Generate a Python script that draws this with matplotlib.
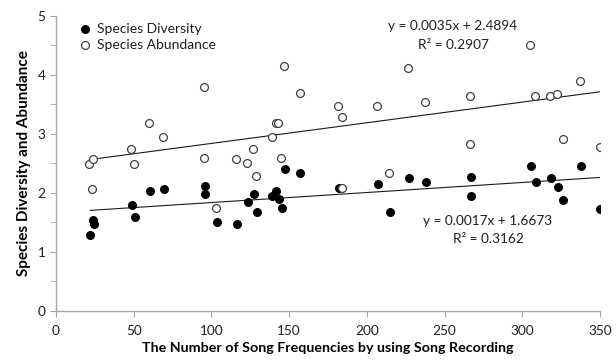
import matplotlib
matplotlib.use("Agg")
import matplotlib.pyplot as plt
import numpy as np
from matplotlib.ticker import MultipleLocator

plt.rcParams['font.family'] = ['Lato', 'DejaVu Sans']

# Species Diversity (filled markers)
div_x = [22.1, 23.6, 24.7, 48.9, 51.0, 60.3, 69.5, 96.1, 95.7, 103.8, 116.5, 123.4,
         127.4, 129.5, 139.2, 141.8, 143.5, 145.2, 147.4, 157.2, 182.1, 207.0, 214.9,
         227.2, 238.1, 267.1, 267.1, 305.5, 308.7, 318.7, 322.8, 326.5, 337.6, 350.3]
div_y = [1.28, 1.54, 1.47, 1.79, 1.60, 2.04, 2.06, 2.11, 1.98, 1.50, 1.47, 1.84,
         1.99, 1.68, 1.94, 2.04, 1.89, 1.74, 2.41, 2.33, 2.08, 2.15, 1.67,
         2.25, 2.19, 2.27, 1.95, 2.45, 2.18, 2.25, 2.10, 1.88, 2.46, 1.73]

# Species Abundance (open markers)
abu_x = [21.4, 24.0, 23.0, 48.3, 50.4, 59.8, 68.9, 95.2, 95.2, 103.2, 115.8, 122.9,
         126.8, 128.9, 139.0, 141.4, 142.9, 144.8, 146.7, 156.8, 181.5, 183.8, 184.3,
         206.4, 214.3, 226.5, 237.5, 266.4, 266.4, 305.0, 308.1, 318.1, 322.4, 326.0,
         337.2, 349.9]
abu_y = [2.49, 2.58, 2.07, 2.74, 2.49, 3.19, 2.95, 3.80, 2.59, 1.74, 2.58, 2.51,
         2.74, 2.29, 2.95, 3.19, 3.19, 2.59, 4.15, 3.70, 3.47, 3.29, 2.08,
         3.47, 2.34, 4.12, 3.54, 3.64, 2.83, 4.51, 3.64, 3.64, 3.67, 2.92,
         3.90, 2.78]

# Trendline equations as shown
abu_slope, abu_icpt, abu_r2 = 0.0035, 2.4894, 0.2907
div_slope, div_icpt, div_r2 = 0.0017, 1.6673, 0.3162

series_labels = ["Species Diversity", "Species Abundance"]
x_ticks = [0, 50, 100, 150, 200, 250, 300, 350]
y_ticks = [0, 1, 2, 3, 4, 5]

fig = plt.figure(figsize=(6.16, 3.62), dpi=100)
ax = fig.add_axes([0.0909, 0.141, 0.883, 0.815])

txt = '#1f1f1f'
axcol = '#a6a6a6'

ax.scatter(div_x, div_y, s=32, facecolor='black', edgecolor='black', linewidth=0.8,
           label=series_labels[0], zorder=3)
ax.scatter(abu_x, abu_y, s=32, facecolor='white', edgecolor='#404040', linewidth=0.9,
           label=series_labels[1], zorder=3)

for xs, m, b in [(abu_x, abu_slope, abu_icpt), (div_x, div_slope, div_icpt)]:
    xx = np.array([min(xs), max(xs)])
    ax.plot(xx, m * xx + b, color='#1a1a1a', linewidth=0.8, zorder=2)

ax.text(255.5, 4.83, f"y = {abu_slope}x + {abu_icpt}", ha='center', va='center',
        fontsize=9.8, color=txt)
ax.text(255.5, 4.51, f"R² = {abu_r2}", ha='center', va='center', fontsize=9.8, color=txt)
ax.text(278, 1.525, f"y = {div_slope}x + {div_icpt}", ha='center', va='center',
        fontsize=9.8, color=txt)
ax.text(278, 1.22, f"R² = {div_r2}", ha='center', va='center', fontsize=9.8, color=txt)

ax.set_xlim(0, 350)
ax.set_ylim(0, 5)
ax.set_xticks(x_ticks)
ax.set_yticks(y_ticks)
ax.yaxis.set_minor_locator(MultipleLocator(0.5))
for s in ['top', 'right']:
    ax.spines[s].set_visible(False)
for s in ['left', 'bottom']:
    ax.spines[s].set_color(axcol)
    ax.spines[s].set_linewidth(1.0)
ax.tick_params(axis='both', which='both', direction='out', color=axcol, labelcolor=txt,
               labelsize=9.8)
ax.tick_params(axis='both', which='major', length=4)
ax.tick_params(axis='y', which='minor', length=4)
ax.tick_params(axis='x', pad=6)

ax.set_xlabel("The Number of Song Frequencies by using Song Recording", fontsize=10.3,
              fontweight='bold', color='black', labelpad=4)
ax.set_ylabel("Species Diversity and Abundance", fontsize=11, fontweight='bold',
              color='black', labelpad=5)

leg = ax.legend(loc='upper left', bbox_to_anchor=(0.025, 1.005), frameon=False,
                fontsize=10, handletextpad=0.35, labelspacing=0.3, borderaxespad=0.2,
                handlelength=1.0)
for t in leg.get_texts():
    t.set_color(txt)

fig.savefig("out.png", dpi=100)
